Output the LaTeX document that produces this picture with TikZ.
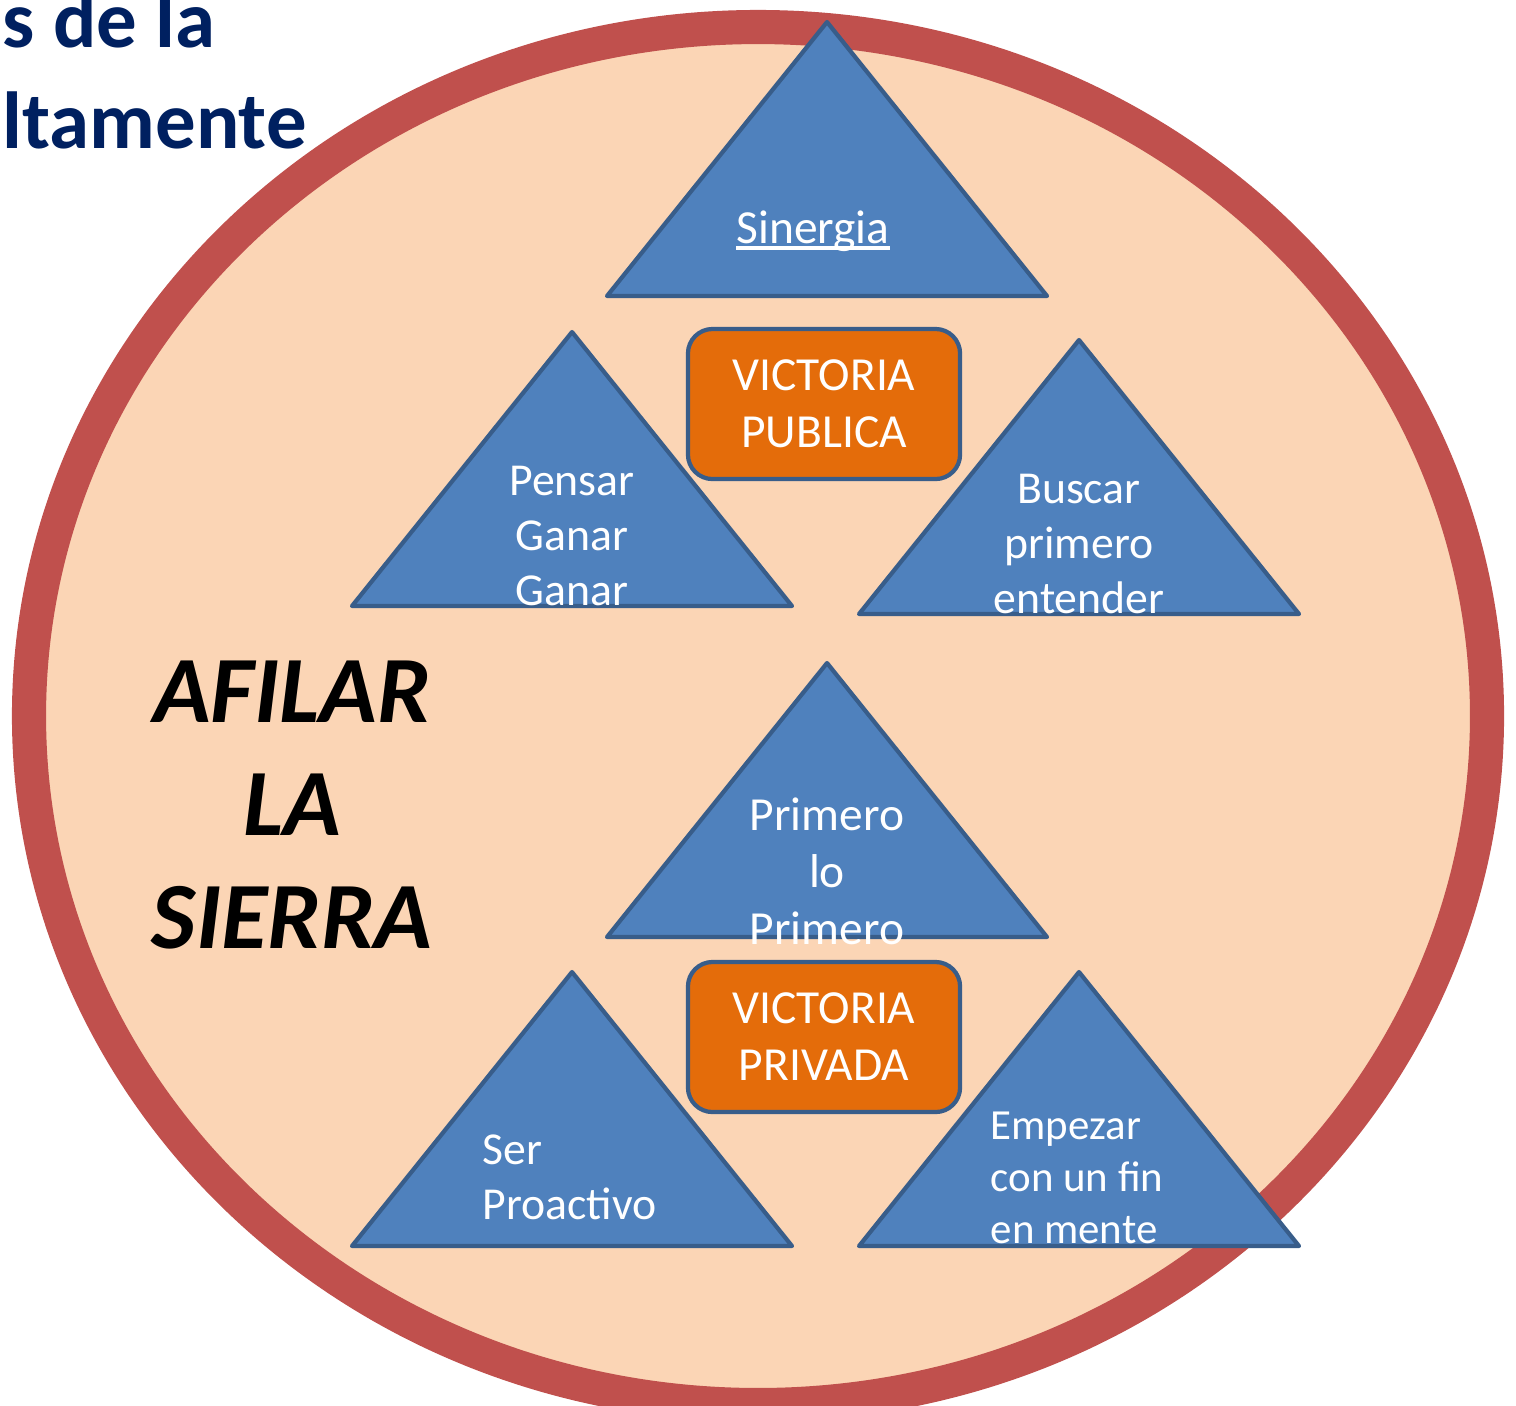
\documentclass[tikz,border=0pt]{standalone}
\usepackage{fontspec}
\setmainfont{Carlito}
\definecolor{ringred}{HTML}{C0504D}
\definecolor{peach}{HTML}{FBD5B5}
\definecolor{triblue}{HTML}{4F81BD}
\definecolor{triedge}{HTML}{385D8A}
\definecolor{boxorange}{HTML}{E46C0A}
\definecolor{navy}{HTML}{002060}
\newcommand\ulword[1]{\setbox0\hbox{#1}\rlap{\rule[-1.9pt]{\wd0}{1pt}}\box0}
\begin{document}
\begin{tikzpicture}[x=0.01cm, y=-0.01cm,
    tri/.style={fill=triblue, draw=triedge, line width=1.2pt, line join=round},
    tri text/.style={text=white, font=\fontsize{13}{15.6}\selectfont, inner sep=0pt, anchor=base},
    victory/.style={fill=boxorange, draw=triedge, line width=1.2pt, rounded corners=7pt,
      minimum width=2.72cm, minimum height=1.5cm, align=center, text=white,
      font=\fontsize{13.5}{16.2}\selectfont}]
  \useasboundingbox (0,0) rectangle (1516,1405);
  \clip (0,0) rectangle (1516,1405);

  % saw ring
  \draw[fill=peach, draw=ringred, line width=9.7pt] (758,716) ellipse [x radius=729, y radius=689];

  % title, cut off at the left (base = last line)
  \node[anchor=base west, align=left, inner sep=0pt, text=navy,
        font=\fontsize{23}{28.7}\bfseries\selectfont] (title) at (2,148) {s de la\\ltamente};

  % the six habits
  \foreach \name/\ax/\ay in {sin/827/22, pgg/572/332, bpe/1079/340, ppp/827/663, spr/572/972, efm/1079/972}
    \draw[tri] (\ax,\ay) coordinate (\name) -- ++(220,274) -- ++(-440,0) -- cycle;

  \node[tri text, font=\fontsize{13.5}{15.6}\selectfont] (sinergia) at (813,243) {\ulword{Sinergia}};
  \node[tri text, align=center] (pensar) at (572,605) {Pensar\\Ganar\\Ganar};
  \node[tri text, align=center] (buscar) at (1079,613) {Buscar\\primero\\entender};
  \node[tri text, align=center, font=\fontsize{13.5}{16.2}\selectfont] (primero) at (827,944) {Primero\\lo\\Primero};
  \node[tri text, anchor=base west, align=left] (proactivo) at (482,1219) {Ser\\Proactivo};
  \node[tri text, anchor=base west, align=left, font=\fontsize{12.2}{14.7}\selectfont] (empezar) at (990,1243) {Empezar\\con un fin\\en mente};

  % victories
  \node[victory] (publica) at (824,404) {VICTORIA\\PUBLICA};
  \node[victory] (privada) at (824,1037) {VICTORIA\\PRIVADA};

  % renewal
  \node[align=center, inner sep=0pt, anchor=base, font=\fontsize{27}{32}\bfseries\itshape\selectfont]
    (afilar) at (292,948) {AFILAR\\LA\\SIERRA};
\end{tikzpicture}
\end{document}
